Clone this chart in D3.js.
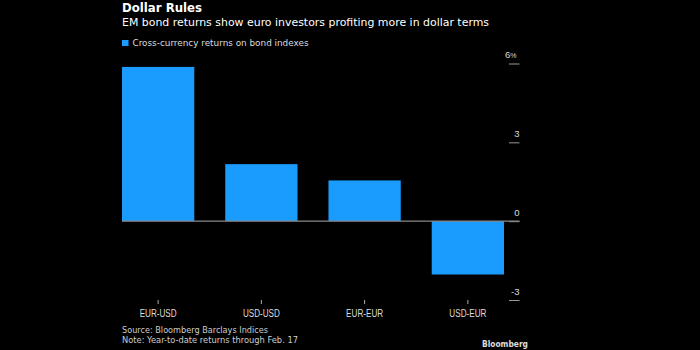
<!DOCTYPE html>
<html lang="en">
  <head>
    <meta charset="UTF-8" />
    <title>Dollar Rules</title>
    <script src="https://d3js.org/d3.v7.min.js"></script>
    <style>
      body {
        margin: 0;
        background: #000;
      }
      svg {
        display: block;
        font-family: "DejaVu Sans Condensed", "DejaVu Sans", sans-serif;
      }
    </style>
  </head>
  <body>
    <svg width="700" height="350"></svg>
    <script>
      // data
      const categories = ["EUR-USD", "USD-USD", "EUR-EUR", "USD-EUR"];
      const returns = [5.87, 2.17, 1.55, -2.03];
      const yTicks = [-3, 0, 3, 6];

      const data = categories.map((c, i) => ({ category: c, value: returns[i] }));

      const svg = d3.select("svg");
      svg.append("rect").attr("width", 700).attr("height", 350).attr("fill", "#000");

      const plotRight = 519.5;

      const x = d3
        .scaleBand()
        .domain(categories)
        .range([122, 504])
        .paddingInner(0.3)
        .paddingOuter(0);

      const y = d3.scaleLinear().domain([-3, 6]).range([300, 63.5]);

      // squeeze a text to the width it has in the reference
      function fit(sel, w) {
        sel.attr("textLength", w).attr("lengthAdjust", "spacingAndGlyphs");
      }

      // header
      svg.append("text")
        .attr("x", 122).attr("y", 12)
        .attr("fill", "#fff")
        .attr("font-size", 11.5)
        .attr("font-weight", "bold")
        .text("Dollar Rules")
        .call(fit, 80);

      svg.append("text")
        .attr("x", 122).attr("y", 26)
        .attr("fill", "#fff")
        .attr("font-size", 10)
        .text("EM bond returns show euro investors profiting more in dollar terms")
        .call(fit, 367);

      // legend
      svg.append("rect")
        .attr("x", 122).attr("y", 40)
        .attr("width", 6.5).attr("height", 6)
        .attr("fill", "#1a9cff");
      svg.append("text")
        .attr("x", 132.5).attr("y", 46)
        .attr("fill", "#ddd")
        .attr("font-size", 9)
        .text("Cross-currency returns on bond indexes")
        .call(fit, 176);

      // y axis (ticks on the right, labels above the tick lines)
      const yAxis = svg.append("g")
        .attr("transform", `translate(${plotRight},0)`)
        .call(d3.axisLeft(y).tickValues(yTicks).tickSize(10.5).tickFormat((d) => d));
      yAxis.select(".domain").remove();
      yAxis.selectAll(".tick line").attr("stroke", "#999");
      yAxis.selectAll(".tick text")
        .attr("x", 0)
        .attr("y", -6)
        .attr("dy", null)
        .attr("text-anchor", "end")
        .attr("fill", "#ddd")
        .attr("font-size", 9.5)
        .attr("font-family", null);
      yAxis.selectAll(".tick")
        .filter((d) => d === 6)
        .select("text")
        .text("6")
        .attr("x", -3)
        .append("tspan")
        .attr("font-size", 7)
        .text("%");

      // bars
      svg.append("g")
        .selectAll("rect")
        .data(data)
        .enter()
        .append("rect")
        .attr("x", (d) => x(d.category))
        .attr("y", (d) => y(Math.max(0, d.value)))
        .attr("width", x.bandwidth())
        .attr("height", (d) => Math.abs(y(d.value) - y(0)))
        .attr("fill", "#1a9cff");

      // zero line
      svg.append("line")
        .attr("x1", x.range()[0])
        .attr("x2", plotRight)
        .attr("y1", y(0))
        .attr("y2", y(0))
        .attr("stroke", "#888")
        .attr("stroke-width", 1.2);

      // x axis
      const xAxis = svg.append("g")
        .attr("transform", "translate(0,300)")
        .call(d3.axisBottom(x).tickSize(4).tickSizeOuter(0));
      xAxis.select(".domain").remove();
      xAxis.selectAll(".tick line").attr("stroke", "#aaa");
      xAxis.selectAll(".tick text")
        .attr("y", 10)
        .attr("fill", "#ddd")
        .attr("font-size", 10)
        .attr("font-family", null)
        .call(fit, 37);

      // footer
      svg.append("text")
        .attr("x", 122).attr("y", 333)
        .attr("fill", "#ccc")
        .attr("font-size", 8.5)
        .text("Source: Bloomberg Barclays Indices")
        .call(fit, 146);
      svg.append("text")
        .attr("x", 122).attr("y", 343)
        .attr("fill", "#ccc")
        .attr("font-size", 8.5)
        .text("Note: Year-to-date returns through Feb. 17")
        .call(fit, 176);

      svg.append("text")
        .attr("x", 528).attr("y", 347)
        .attr("text-anchor", "end")
        .attr("fill", "#ddd")
        .attr("font-size", 9.5)
        .attr("font-weight", "bold")
        .text("Bloomberg")
        .call(fit, 46);
    </script>
  </body>
</html>
